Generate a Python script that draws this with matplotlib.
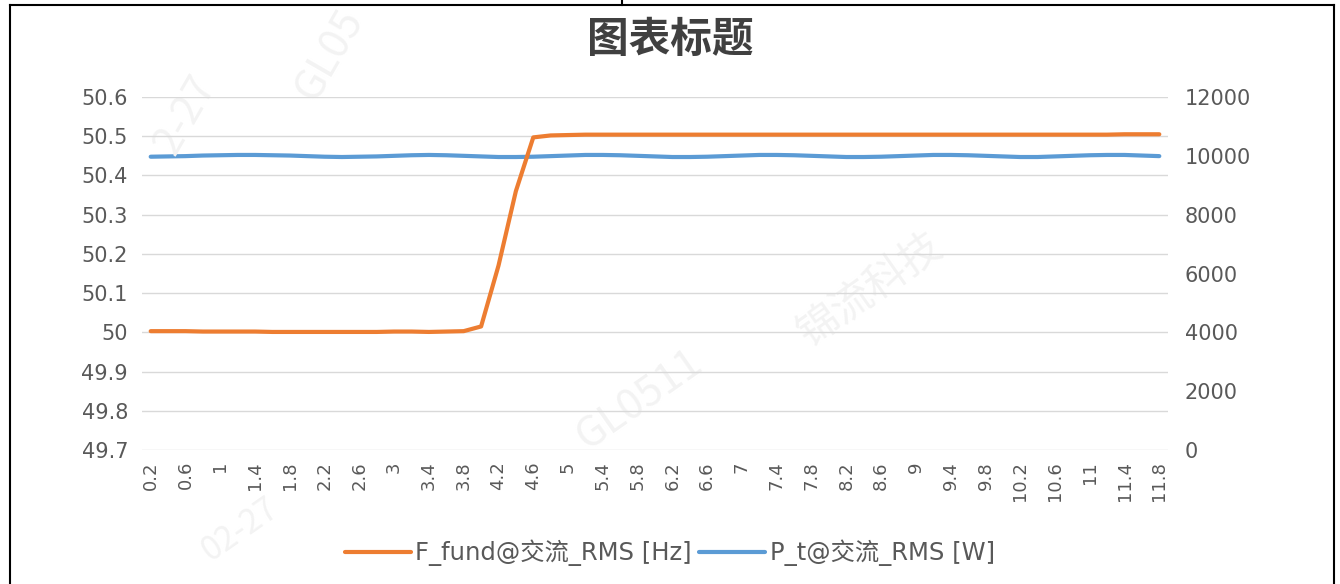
import matplotlib
matplotlib.use("Agg")
import matplotlib.pyplot as plt
from matplotlib.lines import Line2D

plt.rcParams['font.family'] = ['DejaVu Sans', 'Noto Sans CJK SC']

# category labels (time, s)
times = ['0.2', '0.4', '0.6', '0.8', '1', '1.2', '1.4', '1.6', '1.8', '2',
         '2.2', '2.4', '2.6', '2.8', '3', '3.2', '3.4', '3.6', '3.8', '4',
         '4.2', '4.4', '4.6', '4.8', '5', '5.2', '5.4', '5.6', '5.8', '6',
         '6.2', '6.4', '6.6', '6.8', '7', '7.2', '7.4', '7.6', '7.8', '8',
         '8.2', '8.4', '8.6', '8.8', '9', '9.2', '9.4', '9.6', '9.8', '10',
         '10.2', '10.4', '10.6', '10.8', '11', '11.2', '11.4', '11.6', '11.8']

# F_fund [Hz]
freq = [50.003, 50.003, 50.003, 50.002, 50.002, 50.002, 50.002, 50.001, 50.001, 50.001,
        50.001, 50.001, 50.001, 50.001, 50.002, 50.002, 50.001, 50.002, 50.003, 50.015,
        50.17, 50.36, 50.497, 50.502, 50.503, 50.504, 50.504, 50.504, 50.504, 50.504,
        50.504, 50.504, 50.504, 50.504, 50.504, 50.504, 50.504, 50.504, 50.504, 50.504,
        50.504, 50.504, 50.504, 50.504, 50.504, 50.504, 50.504, 50.504, 50.504, 50.504,
        50.504, 50.504, 50.504, 50.504, 50.504, 50.504, 50.505, 50.505, 50.505]

# P_t [W]
power = [9970, 9980, 9990, 10010, 10020, 10030, 10030, 10020, 10010, 9990,
         9970, 9960, 9970, 9980, 10000, 10020, 10030, 10020, 10000, 9980,
         9960, 9960, 9970, 9990, 10010, 10030, 10030, 10020, 10000, 9980,
         9960, 9960, 9970, 9990, 10010, 10030, 10030, 10020, 10000, 9980,
         9960, 9960, 9970, 9990, 10010, 10030, 10030, 10020, 10000, 9980,
         9960, 9960, 9980, 10000, 10020, 10030, 10030, 10010, 9990]

left_ticks = [49.7, 49.8, 49.9, 50, 50.1, 50.2, 50.3, 50.4, 50.5, 50.6]
left_labels = ['49.7', '49.8', '49.9', '50', '50.1', '50.2', '50.3', '50.4', '50.5', '50.6']
right_ticks = [0, 2000, 4000, 6000, 8000, 10000, 12000]

W, H = 1340, 584
fig = plt.figure(figsize=(W / 100, H / 100), dpi=100)
fig.patch.set_facecolor('white')

ax = fig.add_axes([142 / W, 1 - 450 / H, (1168 - 142) / W, (450 - 97) / H])
ax2 = ax.twinx()

x = list(range(len(times)))
ax.plot(x, freq, color='#ED7D31', lw=3.0, solid_capstyle='round', label='F_fund@交流_RMS [Hz]')
ax2.plot(x, power, color='#5B9BD5', lw=3.0, solid_capstyle='round', label='P_t@交流_RMS [W]')

# orange above blue
ax.set_zorder(ax2.get_zorder() + 1)
ax.patch.set_visible(False)

ax.set_xlim(-0.5, len(times) - 0.5)
ax.set_ylim(49.7, 50.6)
ax2.set_ylim(0, 12000)

ax.set_yticks(left_ticks)
ax.set_yticklabels(left_labels)
ax2.set_yticks(right_ticks)
ax.set_xticks(x[::2])
ax.set_xticklabels(times[::2], rotation=90)

ax.grid(axis='y', color='#D9D9D9', lw=1)
ax.set_axisbelow(True)
for a in (ax, ax2):
    for s in a.spines.values():
        s.set_visible(False)
    a.tick_params(length=0, colors='#595959', labelsize=15)
ax.tick_params(axis='x', labelsize=13, pad=8)
ax.tick_params(axis='y', pad=10)
ax2.tick_params(axis='y', pad=12)

fig.text(0.5, 1 - 40 / H, '图表标题', ha='center', va='center', fontsize=30, fontweight='bold',
         color='#404040', family=['Noto Sans CJK SC', 'DejaVu Sans'])

h1, l1 = ax.get_legend_handles_labels()
h2, l2 = ax2.get_legend_handles_labels()
fig.legend(h1 + h2, l1 + l2, loc='center', bbox_to_anchor=(0.5, 1 - 553 / H), ncol=2,
           frameon=False, labelcolor='#595959', handlelength=2.7,
           handletextpad=0.2, columnspacing=0.3,
           prop={'family': ['DejaVu Sans', 'Noto Sans CJK SC'], 'size': 17.5})

# faint watermark
wm = dict(color='#F3F3F3', fontsize=30, ha='center', va='center', zorder=0,
          family=['Noto Sans CJK SC', 'DejaVu Sans'])
fig.text(330 / W, 1 - 55 / H, 'GL05', rotation=60, **wm)
fig.text(185 / W, 1 - 115 / H, '2-27', rotation=60, **wm)
fig.text(870 / W, 1 - 290 / H, '锦流科技', rotation=35, **wm)
fig.text(640 / W, 1 - 400 / H, 'GL0511', rotation=35, **wm)
wm['fontsize'] = 24
fig.text(240 / W, 1 - 530 / H, '02-27', rotation=35, **wm)

# sheet borders around the chart
bk = dict(color='black', lw=1.5, transform=fig.transFigure)
fig.add_artist(Line2D([10 / W, 1334 / W], [1 - 4.5 / H, 1 - 4.5 / H], **bk))
fig.add_artist(Line2D([10 / W, 10 / W], [0, 1 - 4.5 / H], **bk))
fig.add_artist(Line2D([1334 / W, 1334 / W], [0, 1 - 4.5 / H], **bk))
fig.add_artist(Line2D([622 / W, 622 / W], [1 - 4.5 / H, 1], **bk))

fig.savefig('out.png', dpi=100)
